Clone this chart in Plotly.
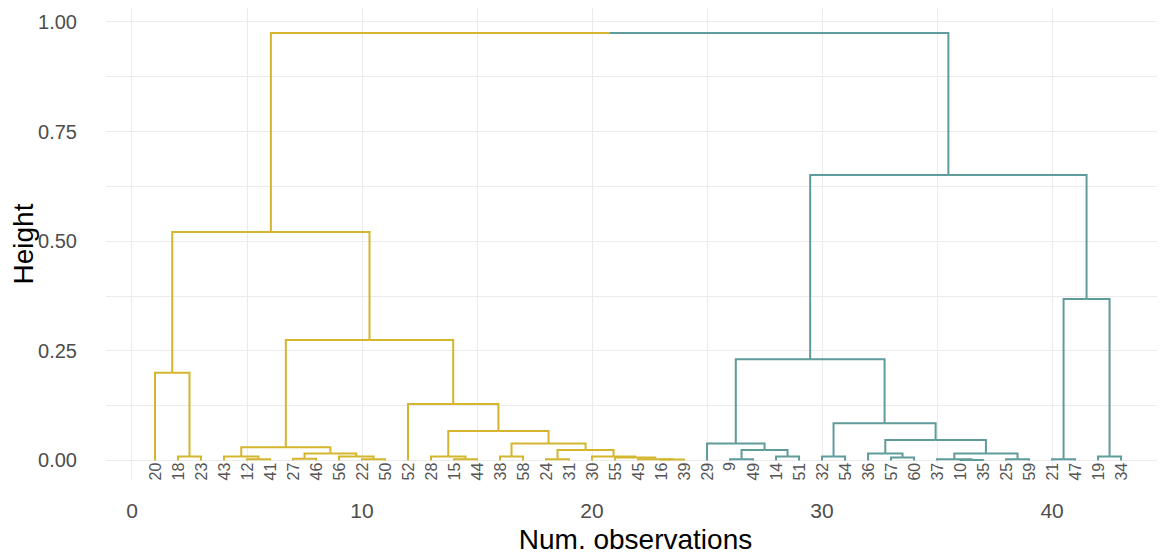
import plotly.graph_objects as go

# ---- data ----
leaf_labels = ["20", "18", "23", "43", "12", "41", "27", "46", "56", "22", "50", "52",
               "28", "15", "44", "38", "58", "24", "31", "30", "55", "45", "16", "39",
               "29", "9", "49", "14", "51", "32", "54", "36", "57", "60", "37", "10",
               "35", "25", "59", "21", "47", "19", "34"]
# cluster of each leaf (1 = yellow, 2 = teal)
leaf_cluster = [1] * 24 + [2] * 19

# R-style merge matrix: negative = leaf position, positive = earlier merge row
merge_left = [-2, -1, -5, -4, -7, -10, -9, 5, 4, -14, -13, -16, -18, -23, -22, -21,
              -20, 13, 12, 11, -12, 9, 2,
              -26, -28, 24, -25, -30, -33, -32, -36, -35, -38, 32, 30, 28, 27,
              -40, -42, 38, 37, 23]
merge_right = [-3, 1, -6, 3, -8, -11, 6, 7, 8, -15, 10, -17, -19, -24, 14, 15,
               16, 17, 18, 19, 20, 21, 22,
               -27, -29, 25, 26, -31, -34, 29, -37, 31, -39, 33, 34, 35, 36,
               -41, -43, 39, 40, 41]
merge_height = [0.009, 0.200, 0.003, 0.009, 0.004, 0.003, 0.009, 0.016, 0.030,
                0.003, 0.009, 0.009, 0.003, 0.002, 0.003, 0.007, 0.009, 0.024,
                0.039, 0.067, 0.129, 0.275, 0.521,
                0.003, 0.009, 0.024, 0.039, 0.009, 0.007, 0.016, 0.001, 0.003,
                0.003, 0.016, 0.047, 0.085, 0.231, 0.003, 0.009, 0.368, 0.651,
                0.975]

cluster_colors = {1: "#D4B52C", 2: "#5F9B9B"}

# ---- compute dendrogram geometry ----
node_x, node_h, node_cl = {}, {}, {}


def child_info(c):
    if c < 0:
        i = -c
        return float(i), 0.0, leaf_cluster[i - 1]
    return node_x[c], node_h[c], node_cl[c]


segs = {1: ([], []), 2: ([], [])}
for r, (a, b, h) in enumerate(zip(merge_left, merge_right, merge_height), start=1):
    xa, ha, ca = child_info(a)
    xb, hb, cb = child_info(b)
    xm = (xa + xb) / 2
    node_x[r], node_h[r] = xm, h
    node_cl[r] = ca if ca == cb else 0
    for xc, hc, cc in ((xa, ha, ca), (xb, hb, cb)):
        if cc == 0:
            continue
        xs, ys = segs[cc]
        xs += [xc, xc, xm, None]
        ys += [hc, h, h, None]

fig = go.Figure()
for cl, (xs, ys) in segs.items():
    fig.add_trace(go.Scatter(x=xs, y=ys, mode="lines",
                             line=dict(color=cluster_colors[cl], width=2),
                             hoverinfo="skip", showlegend=False))

for i, lab in enumerate(leaf_labels, start=1):
    fig.add_annotation(x=i, y=0, text=lab, textangle=-90, showarrow=False,
                       xanchor="center", yanchor="top", yshift=0,
                       font=dict(size=16, color="#555555",
                                 family="Arial, Liberation Sans"))

grid = "#EBEBEB"
fig.update_layout(
    width=1157, height=549,
    margin=dict(l=98, r=0, t=0, b=77, autoexpand=False),
    plot_bgcolor="white", paper_bgcolor="white",
    font=dict(family="Arial, Liberation Sans"),
    xaxis=dict(range=[-1.13, 44.91], tickvals=[0, 10, 20, 30, 40], automargin=False,
               showgrid=True, gridcolor=grid, gridwidth=1.2, zeroline=False,
               minor=dict(dtick=5, tick0=0, showgrid=True, gridcolor=grid, gridwidth=0.8),
               ticks="outside", ticklen=12, tickcolor="rgba(0,0,0,0)",
               tickfont=dict(size=21, color="#4D4D4D"),
               title=dict(text="Num. observations", standoff=8,
                          font=dict(size=28, color="black"))),
    yaxis=dict(range=[-0.0445, 1.0319], tickvals=[0, 0.25, 0.5, 0.75, 1.0],
               ticktext=["0.00", "0.25", "0.50", "0.75", "1.00"], automargin=False,
               showgrid=True, gridcolor=grid, gridwidth=1.2, zeroline=False,
               minor=dict(dtick=0.125, tick0=0, showgrid=True, gridcolor=grid, gridwidth=0.8),
               ticks="outside", ticklen=24, tickcolor="rgba(0,0,0,0)",
               tickfont=dict(size=20, color="#4D4D4D"),
               title=dict(text="Height", standoff=6,
                          font=dict(size=28, color="black"))),
)

fig.write_html("out.html")
